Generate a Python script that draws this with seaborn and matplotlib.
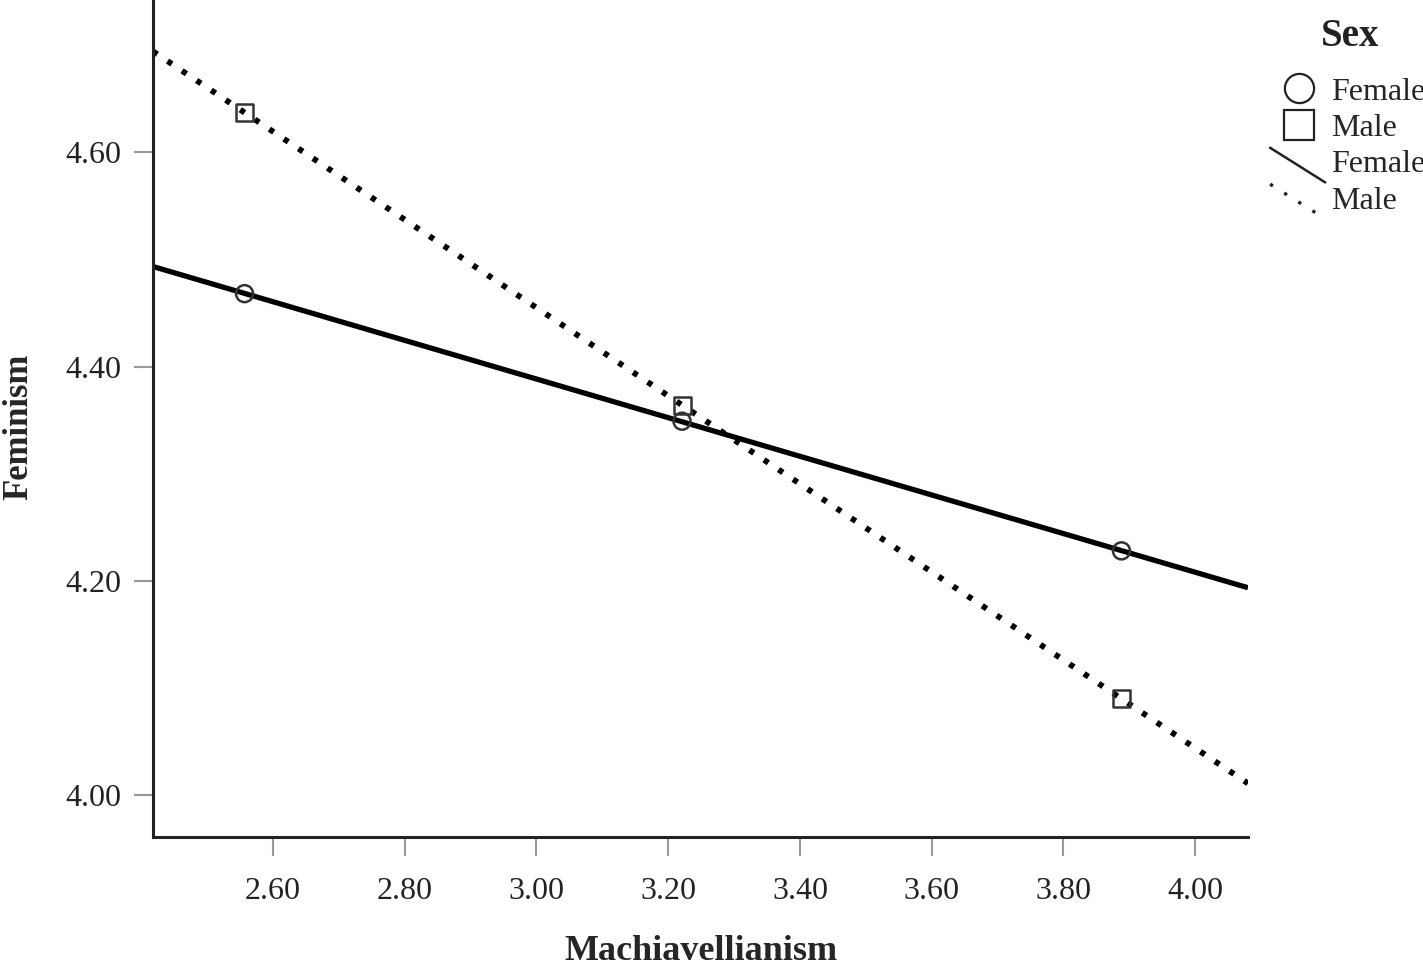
import numpy as np
import pandas as pd
import matplotlib.pyplot as plt
import seaborn as sns
from matplotlib.lines import Line2D
from matplotlib.legend_handler import HandlerLine2D

# 数据：各组在三个 Machiavellianism 水平上的 Feminism 均值
mach_levels = [2.557, 3.221, 3.888]
female_vals = [4.468, 4.349, 4.228]
male_vals = [4.637, 4.364, 4.090]
sexes = ['Female', 'Male']
x_ticks = [2.60, 2.80, 3.00, 3.20, 3.40, 3.60, 3.80, 4.00]
y_ticks = [4.00, 4.20, 4.40, 4.60]

x_lim = (2.418, 4.080)
y_lim = (3.961, 4.742)

sns.set_style('ticks')
plt.rcParams['font.family'] = ['Liberation Serif', 'DejaVu Serif']

pts = pd.DataFrame({
    'Machiavellianism': mach_levels * 2,
    'Feminism': female_vals + male_vals,
    'Sex': ['Female'] * 3 + ['Male'] * 3,
})

# 拟合直线，延伸到坐标轴两端
rows = []
for sex, vals in zip(sexes, [female_vals, male_vals]):
    k, b = np.polyfit(mach_levels, vals, 1)
    for xx in x_lim:
        rows.append({'Machiavellianism': xx, 'Feminism': k * xx + b, 'Sex': sex})
fit = pd.DataFrame(rows)

fig = plt.figure(figsize=(14.23, 9.69), dpi=100)
ax = fig.add_axes([0.1075, 0.1362, 0.7695, 0.8638])

for sex, ls, lw in zip(sexes, ['-', (0, (0.9, 2.1))], [3.8, 4.2]):
    d = fit[fit['Sex'] == sex]
    sns.lineplot(data=d, x='Machiavellianism', y='Feminism', color='black',
                 linewidth=lw, linestyle=ls, ax=ax, legend=False,
                 solid_capstyle='butt', dash_capstyle='butt')

sns.scatterplot(data=pts, x='Machiavellianism', y='Feminism', style='Sex',
                markers={'Female': 'o', 'Male': 's'}, s=150,
                facecolor='none', edgecolor='#333333', linewidth=1.8,
                ax=ax, legend=False, zorder=5)

ax.set_xlim(*x_lim)
ax.set_ylim(*y_lim)
ax.set_xticks(x_ticks)
ax.set_yticks(y_ticks)
ax.set_xticklabels([f'{v:.2f}' for v in x_ticks])
ax.set_yticklabels([f'{v:.2f}' for v in y_ticks])
ax.tick_params(axis='both', direction='out', length=14, width=1.5,
               color='#999999', labelsize=23, labelcolor='#222222', pad=9)
ax.tick_params(axis='x', pad=15)
for side in ['top', 'right']:
    ax.spines[side].set_visible(False)
for side in ['left', 'bottom']:
    ax.spines[side].set_linewidth(2.2)
    ax.spines[side].set_color('#222222')

ax.set_xlabel('Machiavellianism', fontsize=26, fontweight='bold')
ax.set_ylabel('Feminism', fontsize=25, fontweight='bold')
ax.xaxis.set_label_coords(0.5, -0.117)
ax.yaxis.set_label_coords(-0.107, 0.49)


class DiagHandler(HandlerLine2D):
    def create_artists(self, legend, orig_handle, xdescent, ydescent,
                       width, height, fontsize, trans):
        line = Line2D([-xdescent - 0.1 * width, width * 1.05 - xdescent],
                      [height * 1.1 - ydescent, -height * 0.45 - ydescent])
        self.update_prop(line, orig_handle, legend)
        line.set_transform(trans)
        return [line]


handles = [
    Line2D([], [], marker='o', linestyle='none', markersize=21,
           markerfacecolor='none', markeredgecolor='#222222', markeredgewidth=1.6),
    Line2D([], [], marker='s', linestyle='none', markersize=21,
           markerfacecolor='none', markeredgecolor='#222222', markeredgewidth=1.6),
    Line2D([], [], color='#222222', linewidth=1.8, linestyle='-'),
    Line2D([], [], color='#222222', linewidth=2.4, linestyle=(0, (1, 4))),
]
diag = DiagHandler()
leg = fig.legend(handles, ['Female', 'Male', 'Female', 'Male'],
                 loc='upper left', bbox_to_anchor=(0.8757, 0.950),
                 frameon=False, fontsize=23, handlelength=1.5,
                 handletextpad=0.25, labelspacing=0.22,
                 handler_map={handles[2]: diag, handles[3]: diag})
fig.text(1350 / 1423, 1 - 36 / 969, 'Sex', ha='center', va='center',
         fontsize=28, fontweight='bold', color='#222222')

fig.savefig('out.png', dpi=100)
